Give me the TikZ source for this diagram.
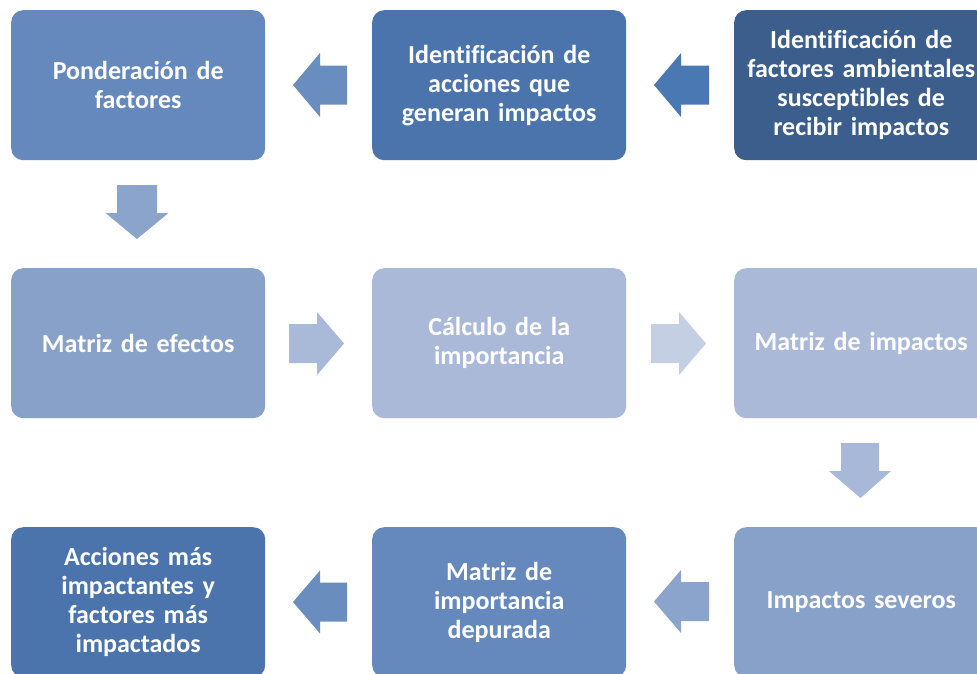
\documentclass[tikz,border=0pt]{standalone}
\usepackage{fontspec}
\setmainfont{Carlito}[Ligatures=CommonOff]
\definecolor{cA}{HTML}{6589BD}
\definecolor{cB}{HTML}{4A74AB}
\definecolor{cC}{HTML}{3B5E8C}
\definecolor{cD}{HTML}{88A1C8}
\definecolor{cE}{HTML}{AAB9D8}
\definecolor{aA}{HTML}{6A8DC0}
\definecolor{aB}{HTML}{4978B2}
\definecolor{aC}{HTML}{8AA4CB}
\definecolor{aD}{HTML}{A9BAD9}
\definecolor{aE}{HTML}{C4CFE4}
\definecolor{aF}{HTML}{A7B8D8}
\tikzset{
  box/.style={rectangle, rounded corners=12pt, minimum width=254pt, minimum height=150pt,
    text width=250pt, align=center, text=white, inner sep=0pt,
    font=\fontsize{26}{29}\selectfont\bfseries, anchor=north west}
}
\begin{document}
\begin{tikzpicture}[x=1pt,y=-1pt]
\useasboundingbox (0,0) rectangle (977,673);
\clip (0,0) rectangle (977,673);
% boxes
\node[box, fill=cA] (b1) at (11,10) {Ponderación de\\factores};
\node[box, fill=cB] (b2) at (372,10) {Identificación de\\acciones que\\generan impactos};
\node[box, fill=cC] (b3) at (734,10) {Identificación de\\factores ambientales\\susceptibles de\\recibir impactos};
\node[box, fill=cD] (b4) at (11,268) {Matriz de efectos};
\node[box, fill=cE] (b5) at (372,268) {Cálculo de la\\importancia};
\node[box, fill=cE] (b6) at (734,268) {Matriz de impactos};
\node[box, fill=cD] (b7) at (734,527) {Impactos severos};
\node[box, fill=cA] (b8) at (372,527) {Matriz de\\importancia\\depurada};
\node[box, fill=cB] (b9) at (11,527) {Acciones más\\impactantes y\\factores más\\impactados};
% block arrows
% row 1, leftward
\fill[aA] (293,85) -- ++(27,-32) -- ++(0,12.5) -- ++(27,0) -- ++(0,39) -- ++(-27,0) -- ++(0,12.5) -- cycle;
\fill[aB] (654,85) -- ++(27,-32) -- ++(0,12.5) -- ++(28,0) -- ++(0,39) -- ++(-28,0) -- ++(0,12.5) -- cycle;
% down left
\fill[aC] (137,239) -- ++(-31.5,-26) -- ++(11.5,0) -- ++(0,-28) -- ++(40,0) -- ++(0,28) -- ++(11.5,0) -- cycle;
% row 2, rightward
\fill[aD] (344,343.5) -- ++(-27,-31.5) -- ++(0,12) -- ++(-28,0) -- ++(0,39) -- ++(28,0) -- ++(0,12) -- cycle;
\fill[aE] (706,343.5) -- ++(-27,-31.5) -- ++(0,12) -- ++(-28,0) -- ++(0,39) -- ++(28,0) -- ++(0,12) -- cycle;
% down right
\fill[aF] (860.5,498) -- ++(-31.5,-27) -- ++(12,0) -- ++(0,-28) -- ++(38,0) -- ++(0,28) -- ++(12,0) -- cycle;
% row 3, leftward
\fill[aC] (654,601.5) -- ++(27,-31.5) -- ++(0,12) -- ++(28,0) -- ++(0,39) -- ++(-28,0) -- ++(0,12) -- cycle;
\fill[aA] (293,602) -- ++(27,-31.5) -- ++(0,12) -- ++(27,0) -- ++(0,39) -- ++(-27,0) -- ++(0,12) -- cycle;
\end{tikzpicture}
\end{document}
